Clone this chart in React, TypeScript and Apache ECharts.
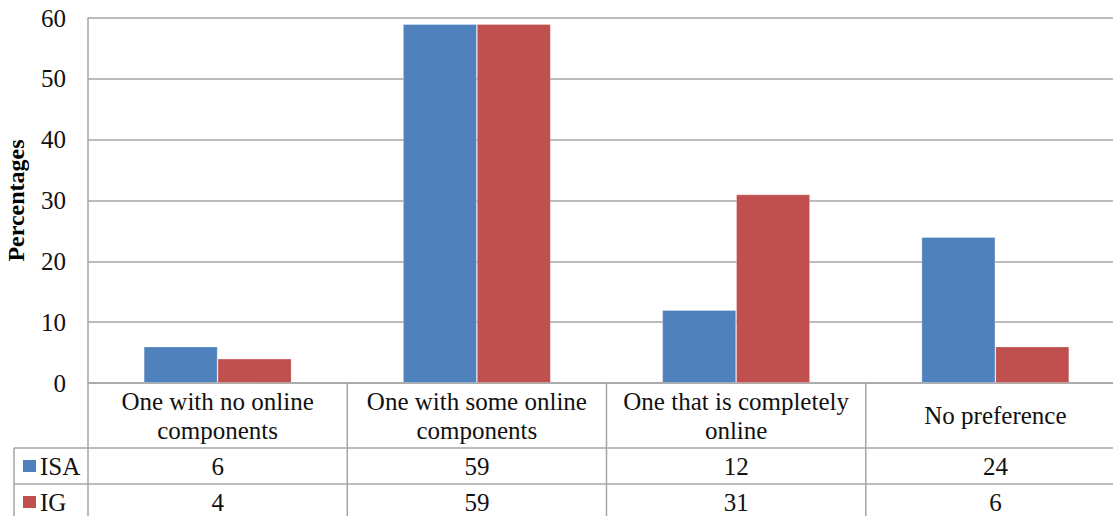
import React, { useEffect, useRef } from "react";
import * as echarts from "echarts";

const categories = [
  "One with no online\ncomponents",
  "One with some online\ncomponents",
  "One that is completely\nonline",
  "No preference",
];
const seriesNames = ["ISA", "IG"];
const isaValues = [6, 59, 12, 24];
const igValues = [4, 59, 31, 6];
const colors = ["#4f81bd", "#c0504d"];
const yTicks = { min: 0, max: 60, interval: 10 };

const FONT = "Liberation Serif";
const LINE = "#a6a6a6";
const FS = 25;

export default function App() {
  const ref = useRef<HTMLDivElement>(null);
  useEffect(() => {
    if (!ref.current) return;
    const chart = echarts.init(ref.current, null, { renderer: "svg" });
    const allValues = [isaValues, igValues];
    chart.setOption({
      animation: false,
      textStyle: { fontFamily: FONT },
      grid: { left: 88, top: 18, width: 1037, height: 365, outerBoundsMode: "none", containLabel: false },
      xAxis: {
        type: "category",
        data: categories,
        axisLine: { show: true, lineStyle: { color: LINE, width: 1.5 } },
        axisTick: { show: false },
        axisLabel: { show: false },
        splitLine: { show: false },
      },
      yAxis: {
        type: "value",
        min: yTicks.min,
        max: yTicks.max,
        interval: yTicks.interval,
        name: "Percentages",
        nameLocation: "middle",
        nameGap: 60,
        nameTextStyle: { fontFamily: FONT, fontSize: 24, fontWeight: "bold", color: "#000" },
        axisLine: { show: true, lineStyle: { color: LINE, width: 1.5 } },
        axisTick: { show: false },
        axisLabel: { fontFamily: FONT, fontSize: FS, color: "#111", margin: 22 },
        splitLine: { show: true, lineStyle: { color: LINE, width: 1.5 } },
      },
      series: seriesNames.map((n, i) => ({
        name: n,
        type: "bar",
        data: allValues[i],
        barGap: "0%",
        barCategoryGap: "43%",
        itemStyle: { color: colors[i], borderColor: "rgba(255,255,255,0.35)", borderWidth: 0.8 },
      })),
    });

    const centers = categories.map((c) => chart.convertToPixel({ xAxisIndex: 0 }, c) as number);
    const bw = centers[1] - centers[0];
    const left = centers[0] - bw / 2;
    const right = centers[centers.length - 1] + bw / 2;
    const axisY = chart.convertToPixel({ yAxisIndex: 0 }, 0) as number;
    const headerH = 65;
    const rowH = 36;
    const row1Top = axisY + headerH;
    const row2Top = row1Top + rowH;
    const bottom = row2Top + rowH + 4;
    const tableLeft = 14;

    const elements: any[] = [];
    const line = (x1: number, y1: number, x2: number, y2: number) =>
      elements.push({
        type: "line",
        shape: { x1, y1, x2, y2 },
        style: { stroke: LINE, lineWidth: 1.5 },
        silent: true,
      });
    line(tableLeft, row1Top, right, row1Top);
    line(tableLeft, row2Top, right, row2Top);
    line(tableLeft, row1Top, tableLeft, bottom);
    line(left, axisY, left, bottom);
    for (let i = 1; i < categories.length; i++) {
      const x = centers[i] - bw / 2;
      line(x, axisY, x, bottom);
    }
    categories.forEach((c, i) => {
      elements.push({
        type: "text",
        x: centers[i],
        y: axisY + headerH / 2,
        style: {
          text: c,
          fontFamily: FONT,
          fontSize: FS,
          lineHeight: 29,
          fill: "#111",
          align: "center",
          verticalAlign: "middle",
        },
      });
      allValues.forEach((vals, r) => {
        elements.push({
          type: "text",
          x: centers[i],
          y: row1Top + rowH * r + rowH / 2,
          style: {
            text: String(vals[i]),
            fontFamily: FONT,
            fontSize: FS,
            fill: "#111",
            align: "center",
            verticalAlign: "middle",
          },
        });
      });
    });
    seriesNames.forEach((n, r) => {
      const cy = row1Top + rowH * r + rowH / 2;
      elements.push({
        type: "rect",
        shape: { x: 23, y: cy - 6, width: 13, height: 12 },
        style: { fill: colors[r] },
      });
      elements.push({
        type: "text",
        x: 40,
        y: cy,
        style: {
          text: n,
          fontFamily: FONT,
          fontSize: FS,
          fill: "#111",
          align: "left",
          verticalAlign: "middle",
        },
      });
    });
    chart.setOption({ graphic: { elements } });

    return () => chart.dispose();
  }, []);
  return (
    <div
      ref={ref}
      style={{ position: "fixed", left: 0, top: 0, width: 1113, height: 516, background: "#fff" }}
    />
  );
}
